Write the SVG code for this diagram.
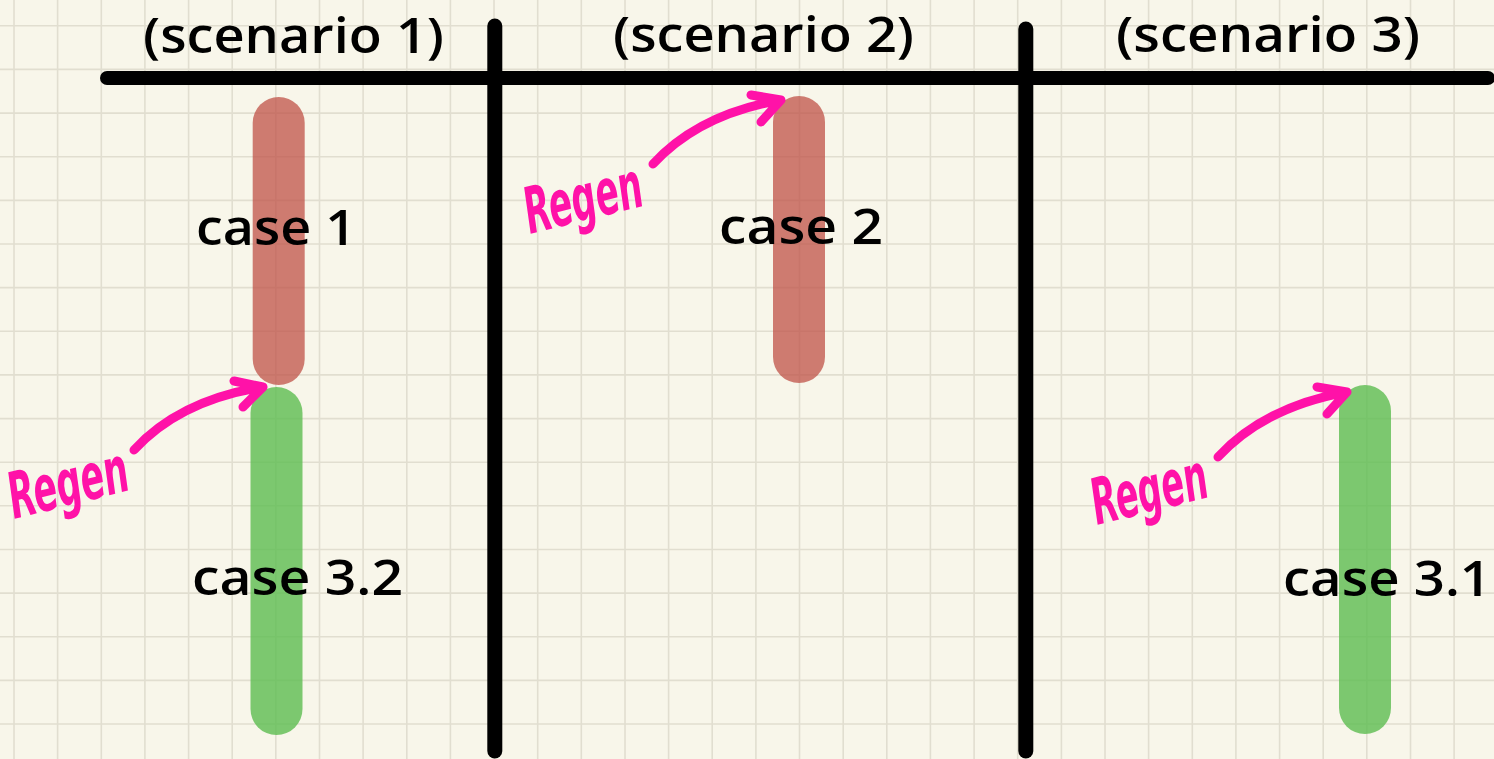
<svg xmlns="http://www.w3.org/2000/svg" width="1494" height="759" viewBox="0 0 1494 759">
<style>
.bg{fill:#f8f6ea}
.grid{stroke:#e1ded0;stroke-width:1.6;fill:none}
.rule{stroke:#000;stroke-linecap:round;fill:none}
.red{stroke:#c0544a;stroke-opacity:0.76;stroke-width:52;stroke-linecap:round}
.green{stroke:#5cbd50;stroke-opacity:0.8;stroke-width:52;stroke-linecap:round}
.lbl{font-family:"Comic Sans MS","Open Sans","DejaVu Sans",sans-serif;font-size:49px;font-weight:600;fill:#000}
.pink{stroke:#ff12a8;stroke-width:9;stroke-linecap:round;stroke-linejoin:round;fill:none}
.regen{font-family:"DejaVu Sans","Liberation Sans",sans-serif;font-stretch:condensed;font-style:oblique;font-weight:bold;font-size:64px;fill:#ff12a8}
</style>
<rect class="bg" x="0" y="0" width="1494" height="759"/>
<path class="grid" d="M14,0V759M57.6,0V759M101.3,0V759M144.9,0V759M188.6,0V759M232.2,0V759M275.8,0V759M319.5,0V759M363.1,0V759M406.8,0V759M450.4,0V759M494,0V759M537.7,0V759M581.3,0V759M625,0V759M668.6,0V759M712.2,0V759M755.9,0V759M799.5,0V759M843.2,0V759M886.8,0V759M930.4,0V759M974.1,0V759M1017.7,0V759M1061.4,0V759M1105,0V759M1148.6,0V759M1192.3,0V759M1235.9,0V759M1279.6,0V759M1323.2,0V759M1366.8,0V759M1410.5,0V759M1454.1,0V759
M0,25.8H1494M0,69.4H1494M0,113.1H1494M0,156.7H1494M0,200.4H1494M0,244H1494M0,287.6H1494M0,331.3H1494M0,374.9H1494M0,418.6H1494M0,462.2H1494M0,505.8H1494M0,549.5H1494M0,593.1H1494M0,636.8H1494M0,680.4H1494M0,724H1494"/>
<g id="frame">
<path class="rule" stroke-width="14" d="M107,78H1488"/>
<path class="rule" stroke-width="15" d="M494.8,26V751"/>
<path class="rule" stroke-width="15" d="M1025.8,29V751"/>
</g>
<g id="title-scenario-1"><text class="lbl" x="143" y="53" textLength="301" lengthAdjust="spacingAndGlyphs">(scenario 1)</text></g>
<g id="title-scenario-2"><text class="lbl" x="613" y="52" textLength="301" lengthAdjust="spacingAndGlyphs">(scenario 2)</text></g>
<g id="title-scenario-3"><text class="lbl" x="1116" y="52" textLength="304" lengthAdjust="spacingAndGlyphs">(scenario 3)</text></g>
<g id="case-1">
<line class="red" x1="278.7" y1="123" x2="278.7" y2="359"/>
<text class="lbl" x="196" y="245" textLength="160" lengthAdjust="spacingAndGlyphs">case 1</text>
</g>
<g id="case-3-2">
<line class="green" x1="276.5" y1="413" x2="276.5" y2="709"/>
<text class="lbl" x="192" y="595" textLength="211" lengthAdjust="spacingAndGlyphs">case 3.2</text>
</g>
<g id="case-2">
<line class="red" x1="799" y1="122" x2="799" y2="357"/>
<text class="lbl" x="719" y="244" textLength="164" lengthAdjust="spacingAndGlyphs">case 2</text>
</g>
<g id="case-3-1">
<line class="green" x1="1365" y1="411" x2="1365" y2="708"/>
<text class="lbl" x="1283" y="596" textLength="208" lengthAdjust="spacingAndGlyphs">case 3.1</text>
</g>
<g id="connectors">
<path class="pink" d="M134,450Q180,400 263,387M234,381L263,387L243,407"/>
<text class="regen" x="14" y="519" textLength="122" lengthAdjust="spacingAndGlyphs" transform="rotate(-14 14 519)">Regen</text>
<path class="pink" d="M653,164Q699,114 781,100M751,95L781,100L761,122"/>
<text class="regen" x="530" y="234" textLength="120" lengthAdjust="spacingAndGlyphs" transform="rotate(-14 530 234)">Regen</text>
<path class="pink" d="M1218,457Q1264,407 1347,392M1317,387L1347,392L1327,414"/>
<text class="regen" x="1097" y="525" textLength="118" lengthAdjust="spacingAndGlyphs" transform="rotate(-14 1097 525)">Regen</text>
</g>
</svg>
